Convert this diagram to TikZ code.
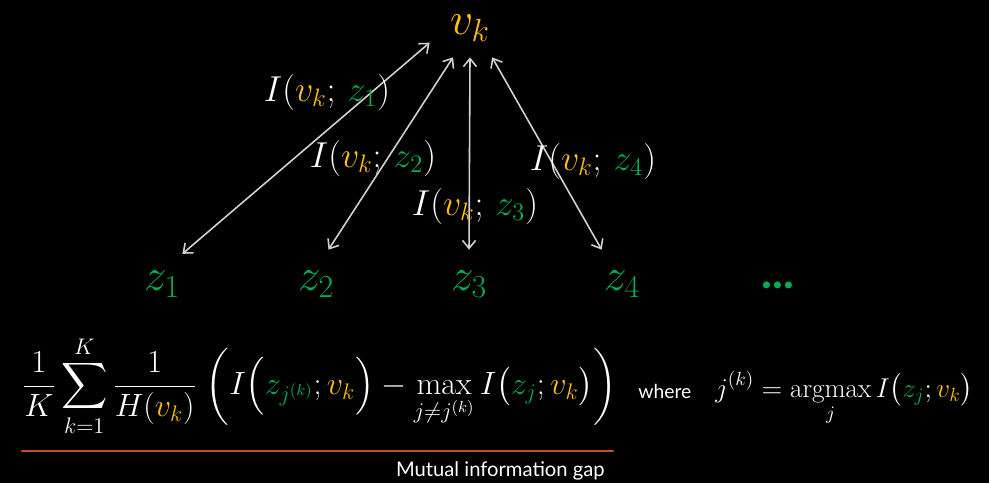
\documentclass[tikz,border=0pt]{standalone}
\usepackage{fix-cm}
\usepackage{amsmath,amssymb}
\usepackage{fontspec}
\setsansfont{Lato}
\usetikzlibrary{arrows.meta}
\usepackage{xcolor}
\definecolor{vkyellow}{RGB}{255,192,0}
\definecolor{zgreen}{RGB}{0,176,80}
\definecolor{gapred}{RGB}{200,78,38}
\newcommand{\Vk}{\textcolor{vkyellow}{v_k}}
\newcommand{\Zz}[1]{\textcolor{zgreen}{z_{#1}}}

\begin{document}
\begin{tikzpicture}[x=0.02cm,y=-0.02cm,>={Straight Barb[length=1.6mm,width=2.6mm]},line cap=round,
  arr/.style={<->,gray!35!white,line width=0.9pt},
  lbl/.style={text=white,font=\fontsize{20.5}{24}\selectfont,inner sep=0pt},
  zvar/.style={text=zgreen,font=\fontsize{26}{30}\selectfont,minimum width=0.8cm,minimum height=1.36cm,inner sep=0pt}]
\useasboundingbox (0,0) rectangle (989,483);
\fill[black] (0,0) rectangle (989,483);
\node[text=vkyellow,font=\fontsize{26}{30}\selectfont,minimum width=1.6cm,minimum height=1.16cm,inner sep=0pt] (vk) at (470,28) {$v_k$};
\node[zvar] (z1) at (162,284) {$z_1$};
\node[zvar] (z2) at (316,284) {$z_2$};
\node[zvar] (z3) at (469,284) {$z_3$};
\node[zvar] (z4) at (622,284) {$z_4$};
\node[zvar,font=\sffamily\bfseries\fontsize{26}{30}\selectfont] (dots) at (778,285) {...};
\draw[arr] (z1.56) -- (vk.200);
\draw[arr] (z2.70) -- (vk.240);
\draw[arr] (z3.north) -- (vk.south);
\draw[arr] (z4.north west) -- (vk.307);
\node[lbl] (l1) at (327,92) {$I(\Vk;\,\Zz{1})$};
\node[lbl] (l2) at (373,158) {$I(\Vk;\,\Zz{2})$};
\node[lbl] (l3) at (475,206) {$I(\Vk;\,\Zz{3})$};
\node[lbl] (l4) at (593,161) {$I(\Vk;\,\Zz{4})$};
\node[text=white,font=\fontsize{18.3}{22}\selectfont,anchor=west,inner sep=0pt] (gap) at (22,386)
  {$\displaystyle \frac{1}{K}\sum_{k=1}^{K}\frac{1}{H(\Vk)}\;\biggl(I\Bigl(\Zz{j^{(k)}};\Vk\Bigr)-\max_{j\neq j^{(k)}} I\bigl(\Zz{j};\Vk\bigr)\biggr)$};
\node[text=white,font=\sffamily\fontsize{11}{13}\selectfont,anchor=base west,inner sep=0pt] (where) at (638,398) {where};
\node[text=white,font=\fontsize{15.5}{19}\selectfont,anchor=base west,inner sep=0pt] (jk) at (715,397)
  {$\displaystyle j^{(k)}=\operatorname*{argmax}_{j} I\bigl(\Zz{j};\Vk\bigr)$};
\draw[gapred,line width=1.2pt] (22,451) -- (613,451);
\node[text=white,font=\sffamily\fontsize{11.5}{13}\selectfont,anchor=base east,inner sep=0pt] (gaplbl) at (605,476) {Mutual information gap};
\end{tikzpicture}
\end{document}
